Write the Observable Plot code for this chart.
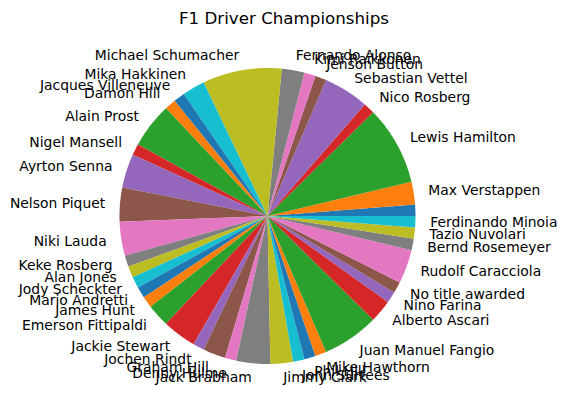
<!DOCTYPE html>
<html><head><meta charset="utf-8">
<script src="https://cdn.jsdelivr.net/npm/d3@7"></script>
<script src="https://cdn.jsdelivr.net/npm/@observablehq/plot@0.6"></script>
<style>body{margin:0;background:#fff}</style>
</head><body><div id="chart"></div>
<script>
const chartTitle = "F1 Driver Championships";
const drivers = ["", "Max Verstappen", "Lewis Hamilton", "Nico Rosberg", "Sebastian Vettel", "Jenson Button", "Kimi Raikkonen", "Fernando Alonso", "Michael Schumacher", "Mika Hakkinen", "Jacques Villeneuve", "Damon Hill", "Alain Prost", "Nigel Mansell", "Ayrton Senna", "Nelson Piquet", "Niki Lauda", "Keke Rosberg", "Alan Jones", "Jody Scheckter", "Mario Andretti", "James Hunt", "Emerson Fittipaldi", "Jackie Stewart", "Jochen Rindt", "Graham Hill", "Denny Hulme", "Jack Brabham", "Jimmy Clark", "John Surtees", "Phil Hill", "Mike Hawthorn", "Juan Manuel Fangio", "Alberto Ascari", "Nino Farina", "No title awarded", "Rudolf Caracciola", "Bernd Rosemeyer", "Tazio Nuvolari", "Ferdinando Minoia"];
const titles = [1, 2, 7, 1, 4, 1, 1, 2, 7, 2, 1, 1, 4, 1, 3, 3, 3, 1, 1, 1, 1, 1, 2, 3, 1, 2, 1, 3, 2, 1, 1, 1, 5, 2, 1, 1, 3, 1, 1, 1];
const tab10 = ["#1f77b4","#ff7f0e","#2ca02c","#d62728","#9467bd","#8c564b","#e377c2","#7f7f7f","#bcbd22","#17becf"];

const total = d3.sum(titles);
const ends = Array.from(d3.cumsum(titles));
const slices = drivers.map((name, i) => {
  const a0 = (ends[i] - titles[i]) / total * 2 * Math.PI;
  const a1 = ends[i] / total * 2 * Math.PI;
  return {name, i, a0, a1, mid: (a0 + a1) / 2};
});
const verts = [];
for (const s of slices) {
  verts.push({slice: s.i, c: s.i % 10, x: 0, y: 0});
  const n = Math.max(2, Math.ceil((s.a1 - s.a0) / (Math.PI / 360)));
  for (let k = 0; k <= n; k++) {
    const a = s.a0 + (s.a1 - s.a0) * k / n;
    verts.push({slice: s.i, c: s.i % 10, x: Math.cos(a), y: Math.sin(a)});
  }
}
const labels = slices.map(s => ({name: s.name, x: 1.1 * Math.cos(s.mid), y: 1.1 * Math.sin(s.mid)}));

const chart = Plot.plot({
  width: 567, height: 411, margin: 0,
  style: {fontFamily: "DejaVu Sans", background: "#fff", color: "#000"},
  x: {domain: [-1, 1], range: [119, 415], axis: null},
  y: {domain: [-1, 1], range: [363.5, 67.5], axis: null},
  color: {type: "ordinal", domain: d3.range(10), range: tab10},
  marks: [
    Plot.line(verts, {x: "x", y: "y", z: "slice", fill: "c", stroke: null, curve: "linear"}),
    Plot.text(labels.filter(d => d.x >= 0), {x: "x", y: "y", text: "name", textAnchor: "start", fontSize: 13.9, fill: "#000"}),
    Plot.text(labels.filter(d => d.x < 0), {x: "x", y: "y", text: "name", textAnchor: "end", fontSize: 13.9, fill: "#000"}),
    Plot.text([chartTitle], {frameAnchor: "top", lineAnchor: "middle", dy: 18, fontSize: 16.7, fill: "#000"})
  ]
});
document.getElementById("chart").appendChild(chart);
</script>
</body></html>
